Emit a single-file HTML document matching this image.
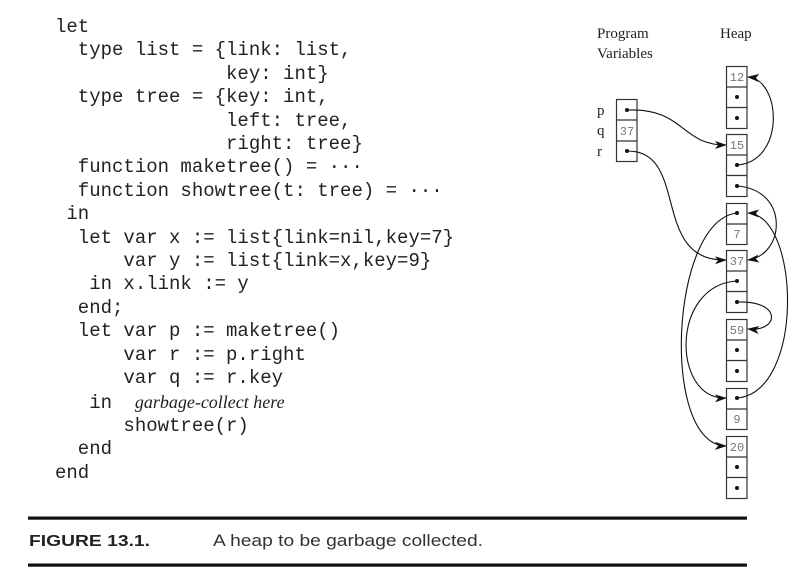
<!DOCTYPE html>
<html><head><meta charset="utf-8"><style>
html,body{margin:0;padding:0;background:#fff;}
body{width:802px;height:570px;position:relative;overflow:hidden;}
pre{position:absolute;left:55px;top:16px;margin:0;font-family:"Liberation Mono",monospace;font-size:19px;line-height:23.4px;color:#222;}
pre i{font-family:"Liberation Serif",serif;font-size:18px;}
svg{position:absolute;left:0;top:0;}
</style></head><body>
<pre>let
  type list = {link: list,
               key: int}
  type tree = {key: int,
               left: tree,
               right: tree}
  function maketree() = ···
  function showtree(t: tree) = ···
 in
  let var x := list{link=nil,key=7}
      var y := list{link=x,key=9}
   in x.link := y
  end;
  let var p := maketree()
      var r := p.right
      var q := r.key
   in  <i>garbage-collect here</i>
      showtree(r)
  end
end</pre>
<svg width="802" height="570" xmlns="http://www.w3.org/2000/svg">
<defs><marker id="a" markerWidth="12" markerHeight="8" refX="11" refY="4" orient="auto" markerUnits="userSpaceOnUse"><path d="M0,0 L12,4 L0,8 L3,4 Z" fill="#111"/></marker></defs>
<g font-family="Liberation Serif, serif" font-size="15" fill="#222">
<text x="597" y="38">Program</text><text x="597" y="58">Variables</text><text x="720" y="38">Heap</text>
<text x="597" y="115">p</text><text x="597" y="135">q</text><text x="597" y="156">r</text>
</g>
<g fill="none" stroke="#333" stroke-width="1.2">
<rect x="616.5" y="99.5" width="20.5" height="62"/><line x1="616.5" y1="120" x2="637" y2="120"/><line x1="616.5" y1="141" x2="637" y2="141"/>
<rect x="726.5" y="66.5" width="20.5" height="62"/><line x1="726.5" y1="87" x2="747" y2="87"/><line x1="726.5" y1="107.5" x2="747" y2="107.5"/>
<rect x="726.5" y="134.5" width="20.5" height="62"/><line x1="726.5" y1="155" x2="747" y2="155"/><line x1="726.5" y1="175.5" x2="747" y2="175.5"/>
<rect x="726.5" y="203.5" width="20.5" height="41"/><line x1="726.5" y1="224" x2="747" y2="224"/>
<rect x="726.5" y="250.5" width="20.5" height="62"/><line x1="726.5" y1="271" x2="747" y2="271"/><line x1="726.5" y1="291.5" x2="747" y2="291.5"/>
<rect x="726.5" y="319.5" width="20.5" height="62"/><line x1="726.5" y1="340" x2="747" y2="340"/><line x1="726.5" y1="360.5" x2="747" y2="360.5"/>
<rect x="726.5" y="388.5" width="20.5" height="41"/><line x1="726.5" y1="409" x2="747" y2="409"/>
<rect x="726.5" y="436.5" width="20.5" height="62"/><line x1="726.5" y1="457" x2="747" y2="457"/><line x1="726.5" y1="477.5" x2="747" y2="477.5"/>
</g>
<g font-family="Liberation Mono, monospace" font-size="12" fill="#777" text-anchor="middle">
<text x="627" y="135">37</text><text x="737" y="81">12</text><text x="737" y="149">15</text><text x="737" y="238">7</text>
<text x="737" y="265">37</text><text x="737" y="334">59</text><text x="737" y="423">9</text><text x="737" y="451">20</text>
</g>
<g fill="#111">
<circle cx="627" cy="110" r="2"/><circle cx="627" cy="151" r="2"/>
<circle cx="737" cy="97" r="2"/><circle cx="737" cy="118" r="2"/>
<circle cx="737" cy="165" r="2"/><circle cx="737" cy="186" r="2"/>
<circle cx="737" cy="213" r="2"/>
<circle cx="737" cy="281" r="2"/><circle cx="737" cy="302" r="2"/>
<circle cx="737" cy="350" r="2"/><circle cx="737" cy="371" r="2"/>
<circle cx="737" cy="398" r="2"/>
<circle cx="737" cy="467" r="2"/><circle cx="737" cy="488" r="2"/>
</g>
<g fill="none" stroke="#111" stroke-width="1.1" marker-end="url(#a)">
<path d="M627,110 C685,108 680,145 726,145"/>
<path d="M627,151 C690,150 650,262 726,260"/>
<path d="M737,165 C785,162 782,80 748,77"/>
<path d="M737,186 C790,190 785,255 748,260"/>
<path d="M737,213 C670,220 660,445 726,446"/>
<path d="M737,398 C805,392 800,215 748,213"/>
<path d="M737,281 C670,285 672,400 726,398"/>
<path d="M737,302 C782,300 780,332 748,329"/>
</g>
<rect x="28" y="516.5" width="719" height="3.2" fill="#111"/>
<rect x="28" y="563.5" width="719" height="3.2" fill="#111"/>
<text x="29" y="546" font-family="Liberation Sans, sans-serif" font-weight="bold" font-size="16" fill="#222" textLength="121" lengthAdjust="spacingAndGlyphs">FIGURE 13.1.</text>
<text x="213" y="546" font-family="Liberation Sans, sans-serif" font-size="17" fill="#333" textLength="270" lengthAdjust="spacingAndGlyphs">A heap to be garbage collected.</text>
</svg>
</body></html>
